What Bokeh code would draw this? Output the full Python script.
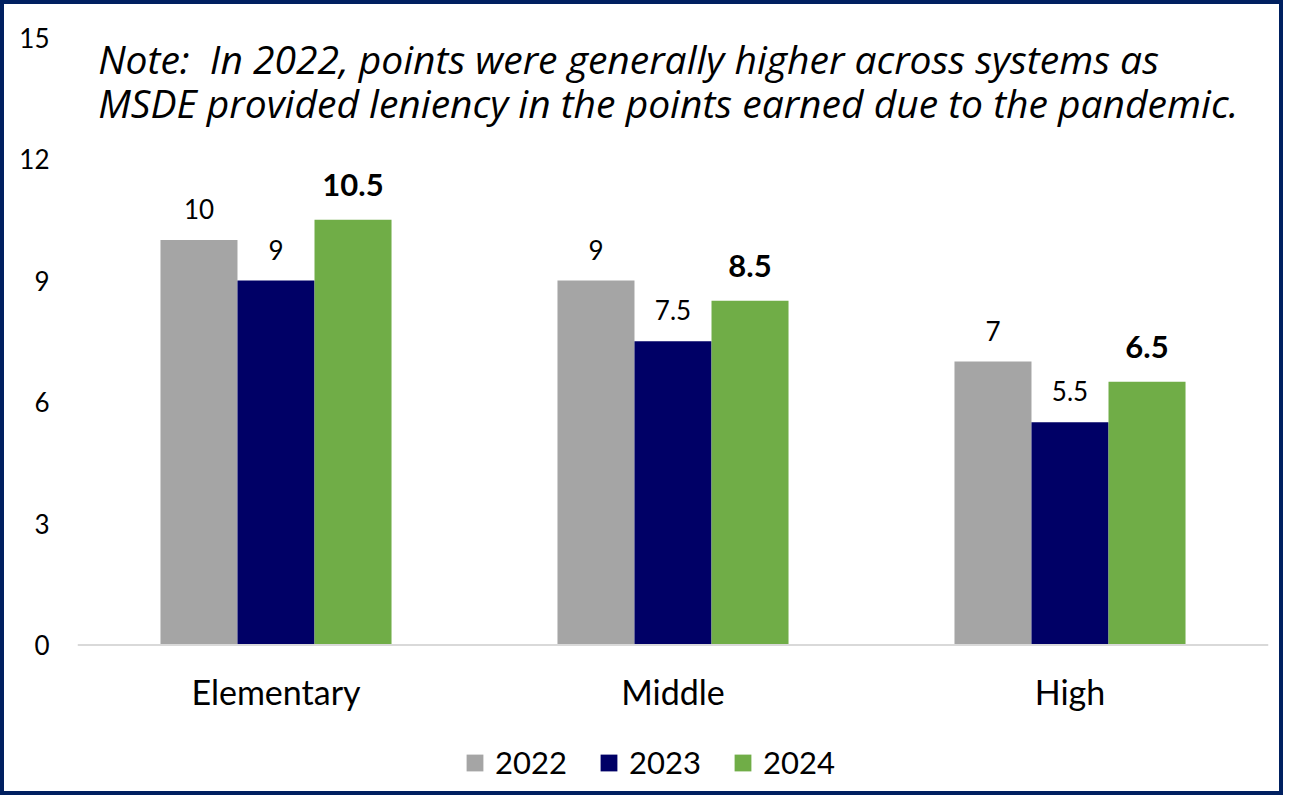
from bokeh.plotting import figure
from bokeh.models import (ColumnDataSource, FactorRange, FixedTicker, Label, LabelSet,
                          Legend, LegendItem, Span)
from bokeh.core.properties import value
from bokeh.transform import dodge
from bokeh.embed import file_html
from bokeh.resources import INLINE

# ---- data ----
categories = ["Elementary", "Middle", "High"]
years = ["2022", "2023", "2024"]
values_2022 = [10, 9, 7]
values_2023 = [9, 7.5, 5.5]
values_2024 = [10.5, 8.5, 6.5]
y_ticks = [0, 3, 6, 9, 12, 15]
note_line1 = "Note:\u00a0 In 2022, points were generally higher across systems as"
note_line2 = "MSDE provided leniency in the points earned due to the pandemic."

colors = ["#A5A5A5", "#000066", "#70AD47"]
FONT = "Lato"

src = ColumnDataSource(dict(
    cat=categories,
    zero=[0] * len(categories),
    v2022=values_2022, v2023=values_2023, v2024=values_2024,
    t2022=[f"{v:g}" for v in values_2022],
    t2023=[f"{v:g}" for v in values_2023],
    t2024=[f"{v:g}" for v in values_2024],
))

# frame extends below the zero line so the legend can sit inside it
p = figure(frame_width=1191, frame_height=750, output_backend="svg", toolbar_location=None,
           x_range=FactorRange(factors=categories, range_padding=0),
           y_range=(15 - 750 / 40.5, 15), x_axis_location=None,
           min_border_left=73, min_border_right=11, min_border_top=33, min_border_bottom=4)
p.styles = {"border": "4px solid #002060"}
p.background_fill_color = "white"
p.border_fill_color = "white"
p.outline_line_color = None
p.xgrid.grid_line_color = None
p.ygrid.grid_line_color = None

bw = 0.194
fields = ["v2022", "v2023", "v2024"]
offsets = [-bw, 0, bw]
renderers = []
for f, off, c in zip(fields, offsets, colors):
    r = p.vbar(x=dodge("cat", off, range=p.x_range), top=f, width=bw, source=src,
               fill_color=c, line_color=None)
    renderers.append(r)

# zero baseline
p.add_layout(Span(location=0, dimension="width", line_color="#D9D9D9", line_width=2))

# data labels
for f, off in zip(["t2022", "t2023"], offsets[:2]):
    ls = LabelSet(x=dodge("cat", off, range=p.x_range), y=f.replace("t", "v"), text=f,
                  source=src, text_align="center", text_baseline="alphabetic",
                  y_offset=21, text_font=value(FONT), text_font_size="26px",
                  text_color="black")
    p.add_layout(ls)
ls = LabelSet(x=dodge("cat", bw, range=p.x_range), y="v2024", text="t2024",
              source=src, text_align="center", text_baseline="alphabetic",
              y_offset=24, text_font=value(FONT), text_font_size="31px",
              text_font_style="bold", text_color="black")
p.add_layout(ls)

# category labels
p.add_layout(LabelSet(x="cat", y="zero", text="cat", source=src, text_align="center",
                      text_baseline="alphabetic", y_offset=-60, text_font=value(FONT),
                      text_font_size="34px", text_color="black"))

# y axis
p.yaxis.ticker = FixedTicker(ticks=y_ticks)
p.yaxis.axis_line_color = None
p.yaxis.major_tick_line_color = None
p.yaxis.minor_tick_line_color = None
p.yaxis.major_label_standoff = 22
p.yaxis.major_label_text_font = FONT
p.yaxis.major_label_text_font_size = "26px"
p.yaxis.major_label_text_color = "black"

# note
for txt, yv in [(note_line1, 14.49), (note_line2, 13.40)]:
    p.add_layout(Label(x=0.052, y=yv, text=txt, text_font="Open Sans", text_font_size="39px",
                       text_font_style="italic", text_color="black",
                       text_baseline="alphabetic"))

# legend
legend = Legend(items=[LegendItem(label=y, renderers=[r]) for y, r in zip(years, renderers)],
                orientation="horizontal", location=(387, 6),
                glyph_width=21, glyph_height=21, label_standoff=10, label_width=103,
                spacing=0, padding=0, margin=0, border_line_color=None,
                background_fill_alpha=0, label_text_font=FONT, label_text_font_size="31px",
                label_text_color="black")
p.add_layout(legend)

open("out.html", "w").write(file_html(p, INLINE))
